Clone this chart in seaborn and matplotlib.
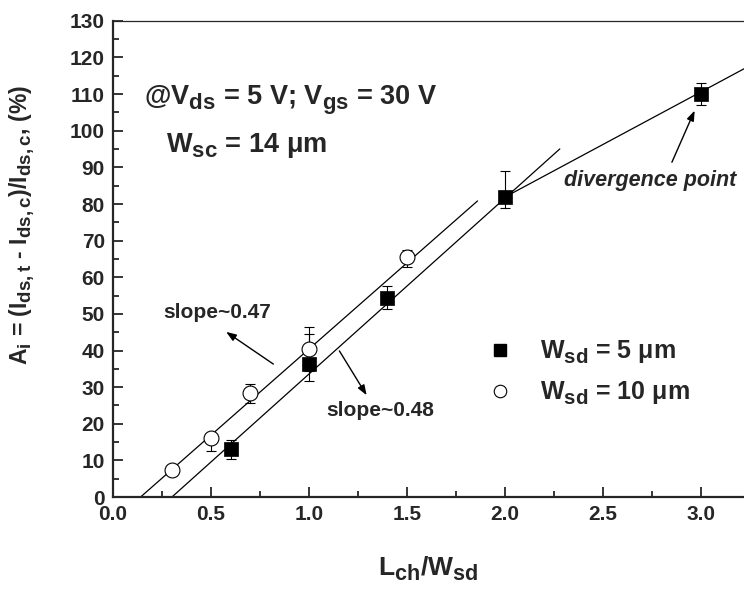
import matplotlib
matplotlib.use("Agg")
import matplotlib.pyplot as plt
from matplotlib.lines import Line2D
from matplotlib.ticker import MultipleLocator
import seaborn as sns
import numpy as np

# W_sd = 5 um (filled squares)
x_w5 = [0.6, 1.0, 1.4, 2.0, 3.0]
y_w5 = [13.0, 36.2, 54.4, 81.9, 110.1]
err_w5_lo = [2.7, 4.6, 3.0, 3.0, 3.0]
err_w5_hi = [2.7, 8.4, 3.1, 7.1, 2.9]

# W_sd = 10 um (open circles)
x_w10 = [0.3, 0.5, 0.7, 1.0, 1.5]
y_w10 = [7.4, 16.0, 28.4, 40.4, 65.5]
err_w10_lo = [1.2, 3.4, 2.7, 6.0, 2.7]
err_w10_hi = [1.2, 1.0, 2.4, 6.0, 2.0]

# linear fits: (slope, x-intercept, x start, x end)
fit_w10 = (47.0, 0.14, 0.14, 1.86)
fit_w5 = (48.0, 0.30, 0.30, 2.28)
# line after the divergence point: (slope, anchor x, anchor y, x end)
fit_div = (28.7, 2.0, 81.9, 3.22)

sns.set_style("ticks")
plt.rcParams["font.family"] = ["Liberation Sans", "DejaVu Sans"]
plt.rcParams["font.weight"] = "bold"
plt.rcParams["mathtext.fontset"] = "custom"
plt.rcParams["mathtext.rm"] = "Liberation Sans:bold"
plt.rcParams["mathtext.bf"] = "Liberation Sans:bold"
plt.rcParams["mathtext.it"] = "Liberation Sans:bold:italic"
plt.rcParams["mathtext.default"] = "rm"

# subscripts in the original are bigger and sit lower than matplotlib's default
try:
    import matplotlib._mathtext as _mt
    _mt.SHRINK_FACTOR = 0.82
    _mt.FontConstantsBase.sub1 = 0.38
except Exception:
    pass

fig = plt.figure(figsize=(7.44, 5.96), dpi=100)
ax = fig.add_axes([0.152, 0.166, 0.848, 0.799])

# fit lines
for slope, x0, xa, xb in [fit_w10, fit_w5]:
    xs = np.array([xa, xb])
    sns.lineplot(x=xs, y=slope * (xs - x0), color="black", lw=0.9, ax=ax, zorder=1)
slope, xa, ya, xb = fit_div
xs = np.array([xa, xb])
sns.lineplot(x=xs, y=ya + slope * (xs - xa), color="black", lw=0.9, ax=ax, zorder=1)

# error bars
ax.errorbar(x_w5, y_w5, yerr=[err_w5_lo, err_w5_hi], fmt="none", ecolor="black",
            elinewidth=0.8, capsize=3.5, capthick=0.8, zorder=2)
ax.errorbar(x_w10, y_w10, yerr=[err_w10_lo, err_w10_hi], fmt="none", ecolor="black",
            elinewidth=0.8, capsize=3.5, capthick=0.8, zorder=2)

# markers
sns.scatterplot(x=x_w5, y=y_w5, marker="s", s=90, color="black", edgecolor="black",
                linewidth=0.5, ax=ax, zorder=3)
sns.scatterplot(x=x_w10, y=y_w10, marker="o", s=115, facecolor="white", edgecolor="black",
                linewidth=0.8, ax=ax, zorder=3)

ax.set_xlim(0, 3.22)
ax.set_ylim(0, 130)
ax.xaxis.set_minor_locator(MultipleLocator(0.25))
ax.yaxis.set_major_locator(MultipleLocator(10))
ax.yaxis.set_minor_locator(MultipleLocator(5))
ax.set_xticks(np.arange(0, 3.01, 0.5))
ax.set_xticklabels([f"{v:.1f}" for v in np.arange(0, 3.01, 0.5)])
ax.tick_params(which="both", direction="in", top=False, right=False, width=1.3)
ax.tick_params(which="major", length=7, labelsize=15, pad=6)
ax.tick_params(which="minor", length=4)
for lab in ax.get_xticklabels() + ax.get_yticklabels():
    lab.set_fontweight("bold")

ax.spines["right"].set_visible(False)
ax.spines["left"].set_linewidth(1.6)
ax.spines["bottom"].set_linewidth(1.6)
ax.spines["top"].set_linewidth(0.9)

ax.set_xlabel(r"L$_{ch}$/W$_{sd}$", fontsize=19, fontweight="bold", labelpad=22)
ax.set_ylabel(r"A$_{i}$ = (I$_{ds,t}$ - I$_{ds,c}$)/I$_{ds,c}$, (%)", fontsize=16.5,
              fontweight="bold")
ax.yaxis.set_label_coords(-0.12, 0.572)

# annotations
ax.text(0.158, 108.5, r"@V$_{ds}$ = 5 V; V$_{gs}$ = 30 V", fontsize=19.5, fontweight="bold",
        va="center", ha="left")
ax.text(0.269, 96.0, r"W$_{sc}$ = 14 $\mu$m", fontsize=19.5, fontweight="bold",
        va="center", ha="left")

arrow = dict(arrowstyle="-|>,head_length=0.6,head_width=0.22", color="black", lw=1.0,
             shrinkA=0, shrinkB=0)
ax.annotate("", xy=(0.577, 45.1), xytext=(0.818, 36.3), arrowprops=arrow)
ax.text(0.529, 50.5, "slope~0.47", fontsize=15, fontweight="bold", ha="center", va="center")
ax.annotate("", xy=(1.294, 27.8), xytext=(1.155, 39.9), arrowprops=arrow)
ax.text(1.362, 23.7, "slope~0.48", fontsize=15, fontweight="bold", ha="center", va="center")
ax.annotate("", xy=(2.968, 105.5), xytext=(2.852, 91.4), arrowprops=arrow)
ax.text(2.741, 86.4, "divergence point", fontsize=15.5, fontweight="bold", style="italic",
        ha="center", va="center")

handles = [
    Line2D([], [], marker="s", color="black", linestyle="none", markersize=9),
    Line2D([], [], marker="o", markerfacecolor="white", markeredgecolor="black",
           linestyle="none", markersize=9, markeredgewidth=0.8),
]
labels = [r"W$_{sd}$ = 5 $\mu$m", r"W$_{sd}$ = 10 $\mu$m"]
ax.legend(handles, labels, loc="center left", bbox_to_anchor=(0.593, 0.261), frameon=False,
          handlelength=1.0, handletextpad=1.1, labelspacing=0.55,
          borderpad=0, borderaxespad=0, prop={"weight": "bold", "size": 18})

fig.savefig("out.png", dpi=100)
